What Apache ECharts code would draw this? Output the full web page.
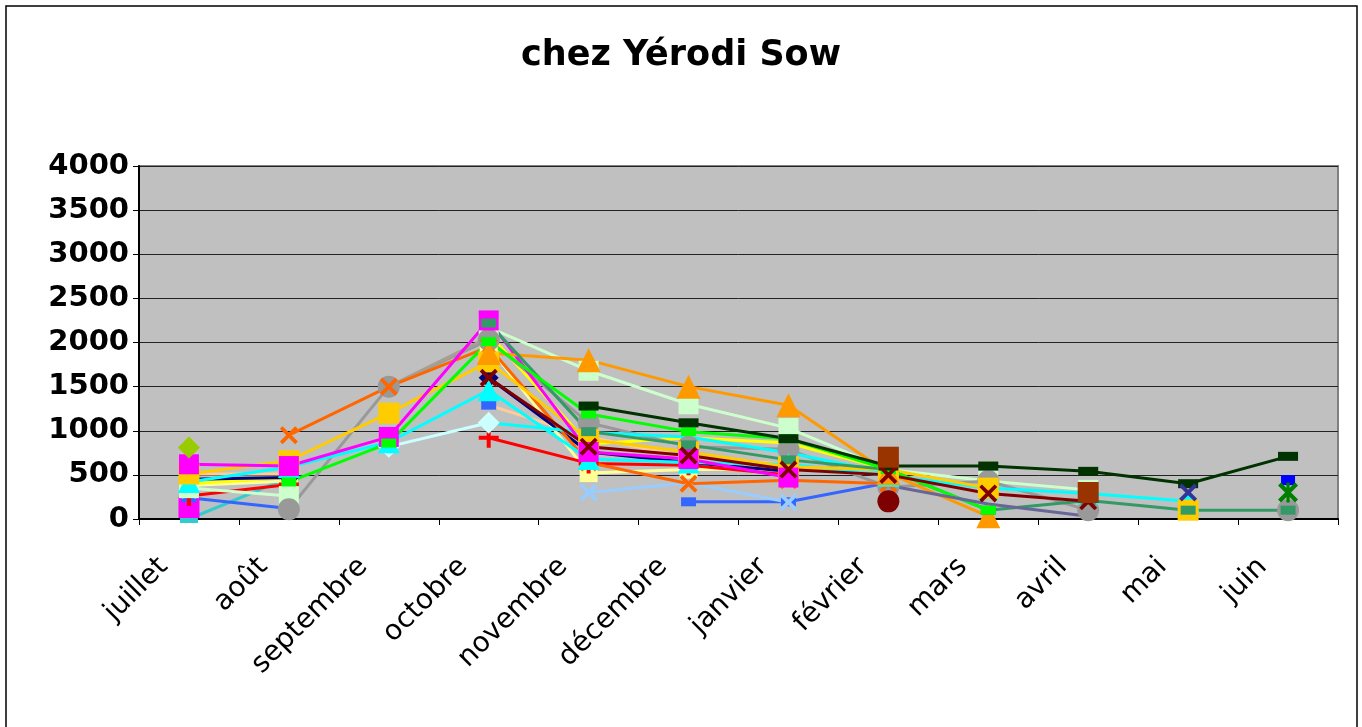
<!DOCTYPE html>
<html>
<head>
<meta charset="utf-8">
<script src="https://cdn.jsdelivr.net/npm/echarts@6/dist/echarts.min.js"></script>
<style>html,body{margin:0;padding:0;background:#fff}#c{width:1362px;height:727px}</style>
</head>
<body>
<div id="c"></div>
<script>
// ---------- DATA ----------
const months = ['juillet','août','septembre','octobre','novembre','décembre','janvier','février','mars','avril','mai','juin'];
const N = null;
const magenta     = [620, 600, 930, 2250, 760, 680, 470, N, N, N, N, N];
const magenta2    = [130, N, N, N, N, N, N, N, N, N, N, N];
const oliveDia    = [810, N, N, N, N, N, N, N, N, N, N, N];
const orangeTri   = [N, N, N, 1880, 1800, 1500, 1290, 520, 30, N, N, N];
const paleGreen   = [350, 260, N, 2170, 1680, 1300, 1030, 560, 430, 330, N, N];
const darkGreen   = [N, N, N, N, 1280, 1090, 910, 600, 600, 540, 400, 710];
const green       = [N, 420, 860, 2010, 1190, 990, 910, 560, 100, N, N, N];
const grayCircle  = [N, 110, 1500, 2030, 1090, 820, 790, 360, 430, 100, N, 100];
const tan         = [N, N, 1500, 2060, N, N, N, N, N, N, N, N];
const orangeX     = [N, 950, 1500, 1950, 640, 400, 440, 400, N, N, N, N];
const goldSq      = [510, 660, 1200, 1780, 900, 760, 590, 560, 350, N, 100, N];
const navyDia     = [450, 470, N, 1600, 760, 640, 540, N, N, N, N, N];
const maroonX     = [N, N, N, 1600, 820, 720, 560, 500, 290, 200, N, N];
const redPlus     = [260, 390, N, 920, 630, 610, 500, N, N, N, N, N];
const blueDash    = [240, 120, N, 1290, N, 195, 195, 410, N, N, N, N];
const lightBlueX  = [330, N, N, N, 300, 410, 190, N, N, N, N, N];
const cyanTri     = [420, 590, 870, 1460, 680, 640, 620, 490, 350, 290, 200, N];
const paleCyanDia = [N, N, 820, 1090, N, N, N, N, N, N, N, N];
const cyanLine    = [N, N, N, 1090, 980, 930, 750, 520, N, N, N, N];
const teal        = [0, 470, N, N, N, N, N, N, N, N, N, N];
const seaGreen    = [N, N, N, 2220, 990, 840, 670, 560, 100, 210, 100, 100];
const slate       = [N, N, N, N, N, N, N, 380, 170, 30, N, N];
const lightYellow = [380, 430, N, 1950, 520, 560, 560, N, N, N, N, N];
const peach       = [510, 510, N, 1290, 930, 700, 620, N, N, N, N, N];
const yellow      = [400, 470, N, 2100, 850, 920, 860, 560, N, N, N, N];
const darkRedDot  = [N, N, N, N, N, N, N, 200, N, N, N, N];
const brownSq     = [N, N, N, N, N, N, N, 700, N, 300, N, N];
const indigoX     = [N, N, N, N, N, N, N, N, N, N, 300, N];
const blueSq      = [N, N, N, N, N, N, N, N, N, N, N, 440];
const greenStar   = [N, N, N, N, N, N, N, N, N, N, N, 300];

// ---------- STYLE ----------
const X_PATH = 'path://M0,1.5 L1.5,0 L10,8.5 L8.5,10 Z M8.5,0 L10,1.5 L1.5,10 L0,8.5 Z';
const PLUS_PATH = 'path://M4,0 H6 V4 H10 V6 H6 V10 H4 V6 H0 V4 H4 Z';
const STAR_PATH = 'path://M0,1.5 L1.5,0 L10,8.5 L8.5,10 Z M8.5,0 L10,1.5 L1.5,10 L0,8.5 Z M4.2,0 H5.8 V10 H4.2 Z';

const defs = [
  {d: teal,        c: '#33CCCC', s: 'rect',   z: [18, 8]},
  {d: magenta2,    c: '#FF00FF', s: 'rect',   z: 21},
  {d: blueDash,    c: '#3366FF', s: 'rect',   z: [15, 9]},
  {d: lightBlueX,  c: '#99CCFF', s: X_PATH,   z: 18},
  {d: peach,       c: '#FFCC99', s: 'none',   z: 0},
  {d: lightYellow, c: '#FFFF99', s: 'rect',   z: 18},
  {d: yellow,      c: '#FFFF00', s: 'none',   z: 0},
  {d: navyDia,     c: '#000080', s: 'diamond',z: 20},
  {d: redPlus,     c: '#FF0000', s: PLUS_PATH,z: 20},
  {d: paleGreen,   c: '#CCFFCC', s: 'rect',   z: 20},
  {d: grayCircle,  c: '#999999', s: 'circle', z: 22},
  {d: tan,         c: '#A89F94', s: 'none',   z: 0},
  {d: orangeX,     c: '#FF6600', s: X_PATH,   z: 18},
  {d: cyanLine,    c: '#00FFFF', s: 'none',   z: 0},
  {d: paleCyanDia, c: '#CCFFFF', s: 'diamond',z: 22},
  {d: cyanTri,     c: '#00FFFF', s: 'triangle',z: 22},
  {d: goldSq,      c: '#FFCC00', s: 'rect',   z: 21},
  {d: magenta,     c: '#FF00FF', s: 'rect',   z: 20},
  {d: orangeTri,   c: '#FF9900', s: 'triangle',z: 24},
  {d: seaGreen,    c: '#339966', s: 'rect',   z: [15, 9]},
  {d: green,       c: '#00FF00', s: 'rect',   z: [15, 9]},
  {d: darkGreen,   c: '#003300', s: 'rect',   z: [20, 9]},
  {d: slate,       c: '#666699', s: 'none',   z: 0},
  {d: maroonX,     c: '#800000', s: X_PATH,   z: 18},
  {d: darkRedDot,  c: '#7F0000', s: 'circle', z: 22},
  {d: brownSq,     c: '#993300', s: 'rect',   z: 21},
  {d: indigoX,     c: '#333399', s: X_PATH,   z: 18},
  {d: blueSq,      c: '#0000FF', s: 'rect',   z: [14, 10]},
  {d: greenStar,   c: '#008000', s: STAR_PATH,z: 20},
  {d: oliveDia,    c: '#99CC00', s: 'diamond',z: 22}
];

const series = defs.map((o, i) => ({
  type: 'line',
  name: 's' + i,
  data: o.d,
  connectNulls: false,
  showSymbol: true,
  symbol: o.s,
  symbolSize: o.z,
  lineStyle: {color: o.c, width: 3},
  itemStyle: {color: o.c},
  emphasis: {disabled: true},
  animation: false
}));

const chart = echarts.init(document.getElementById('c'), null, {renderer: 'canvas'});
chart.setOption({
  animation: false,
  backgroundColor: '#ffffff',
  title: {
    text: 'chez Yérodi Sow',
    left: 'center',
    top: 33,
    padding: [5, 0, 5, 14],
    textStyle: {fontFamily: 'DejaVu Sans', fontWeight: 'bold', fontSize: 35, color: '#000'}
  },
  graphic: [{
    type: 'rect',
    shape: {x: 6, y: 6, width: 1351, height: 730},
    style: {fill: 'none', stroke: '#000', lineWidth: 1.5},
    silent: true
  }],
  grid: {
    left: 139, right: 24, top: 166, bottom: 208,
    show: true, backgroundColor: '#C0C0C0', borderColor: '#808080', borderWidth: 2,
    containLabel: false
  },
  xAxis: {
    type: 'category',
    data: months,
    boundaryGap: true,
    axisLine: {lineStyle: {color: '#000', width: 2}},
    axisTick: {show: true, inside: false, length: 6, alignWithLabel: false, lineStyle: {color: '#000', width: 1}},
    axisLabel: {
      rotate: 45, interval: 0, margin: 18,
      padding: [0, 36, 0, 0],
      fontFamily: 'DejaVu Sans', fontSize: 28, color: '#000'
    },
    splitLine: {show: false}
  },
  yAxis: {
    type: 'value',
    min: 0, max: 4000, interval: 500,
    axisLine: {show: true, lineStyle: {color: '#000', width: 2}},
    axisTick: {show: true, inside: false, length: 6, lineStyle: {color: '#000'}},
    axisLabel: {margin: 10, formatter: v => String(v), fontFamily: 'DejaVu Sans', fontWeight: 'bold', fontSize: 29, color: '#000'},
    splitLine: {show: true, lineStyle: {color: '#222', width: 1}}
  },
  tooltip: {show: false},
  legend: {show: false},
  series: series
});
</script>
</body>
</html>
